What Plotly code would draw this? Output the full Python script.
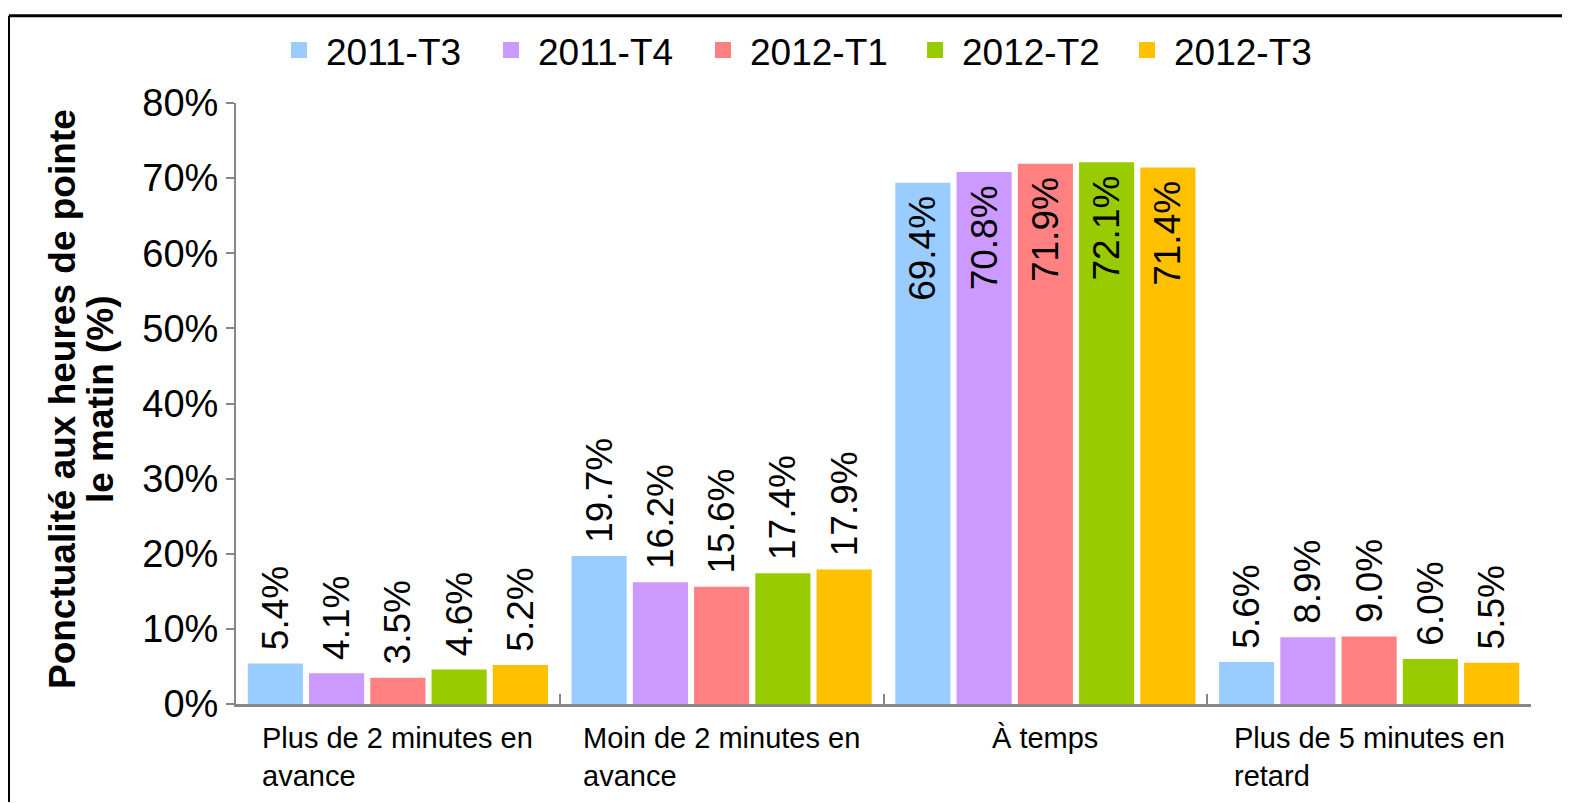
import plotly.graph_objects as go

categories = ["Plus de 2 minutes en<br>avance", "Moin de 2 minutes en<br>avance", "À temps", "Plus de 5 minutes en<br>retard"]
series_names = ["2011-T3", "2011-T4", "2012-T1", "2012-T2", "2012-T3"]
values = {
    "2011-T3": [5.4, 19.7, 69.4, 5.6],
    "2011-T4": [4.1, 16.2, 70.8, 8.9],
    "2012-T1": [3.5, 15.6, 71.9, 9.0],
    "2012-T2": [4.6, 17.4, 72.1, 6.0],
    "2012-T3": [5.2, 17.9, 71.4, 5.5],
}
colors = ["#99CCFF", "#CC99FF", "#FF8080", "#99CC00", "#FFC000"]
y_ticks = [0, 10, 20, 30, 40, 50, 60, 70, 80]
y_title_lines = ["Ponctualité aux heures de pointe", "le matin (%)"]

FONT = "Liberation Sans, Arial, sans-serif"
W, H = 1562, 795
ML, MT, PW, PH = 228, 89, 1295, 607
OFF = 8  # page offset of the figure


def px_x(x):
    return (x - OFF - ML) / PW


def px_y(y):
    return 1 - (y - OFF - MT) / PH


fig = go.Figure()
for name, col in zip(series_names, colors):
    vals = [v / 100 for v in values[name]]
    inside = [v > 0.5 for v in vals]
    pos = ["inside" if i else "outside" for i in inside]
    labels = [(f"{v:.1f}%\u00a0" if i else f"\u00a0{v:.1f}%") for v, i in zip(values[name], inside)]
    fig.add_trace(go.Bar(
        name=name, x=categories, y=vals, marker=dict(color=col, line=dict(width=0)),
        text=labels, textposition=pos,
        textangle=-90, insidetextanchor="end", constraintext="none",
        cliponaxis=False, showlegend=False,
        textfont=dict(family=FONT, size=37, color="black"),
        outsidetextfont=dict(family=FONT, size=37, color="black"),
        insidetextfont=dict(family=FONT, size=37, color="black"),
    ))
# legend entries (square swatches)
for name, col in zip(series_names, colors):
    fig.add_trace(go.Scatter(name=name, x=[None], y=[None], mode="markers",
                             marker=dict(symbol="square", size=20, color=col), showlegend=True))

for c in categories:
    fig.add_annotation(x=c, xref="x", y=0, yref="y", yanchor="top", yshift=-16,
                       text=c, showarrow=False, align="left",
                       font=dict(family=FONT, size=29, color="black"))

# y axis title as two rotated lines
for txt, xc in zip(y_title_lines, [62, 100]):
    fig.add_annotation(x=px_x(xc), xref="paper", y=px_y(396), yref="paper",
                       xanchor="center", yanchor="middle", textangle=-90,
                       text=f"<b>{txt}</b>", showarrow=False,
                       font=dict(family=FONT, size=37, color="black"))

fig.update_layout(
    width=W, height=H,
    margin=dict(l=ML, r=W - ML - PW, t=MT, b=H - MT - PH),
    paper_bgcolor="white", plot_bgcolor="rgba(0,0,0,0)",
    barmode="group", bargap=0.054, bargroupgap=0.1,
    font=dict(family=FONT, color="black"),
    legend=dict(orientation="h", x=px_x(272), xanchor="left",
                y=px_y(44), yanchor="middle", itemwidth=44,
                font=dict(family=FONT, size=37, color="black"),
                entrywidth=153, entrywidthmode="pixels", bgcolor="rgba(255,255,255,0)"),
    showlegend=True,
)
fig.update_xaxes(showline=True, linecolor="#878787", linewidth=3,
                 showticklabels=False, ticks="inside", tickson="boundaries",
                 ticklen=10, tickcolor="#878787", tickwidth=2, showgrid=False, zeroline=False)
fig.update_yaxes(range=[0, 0.8], tickvals=[t / 100 for t in y_ticks],
                 ticktext=[f"{t}%" for t in y_ticks],
                 showline=True, linecolor="#878787", linewidth=2,
                 ticks="outside", ticklen=8, tickcolor="#878787", tickwidth=2,
                 showgrid=False, zeroline=False,
                 tickfont=dict(family=FONT, size=38, color="black"))

# frame lines (top and left)
fig.add_shape(type="line", xref="paper", yref="paper", x0=px_x(OFF + 1), x1=px_x(OFF + W),
              y0=px_y(OFF + 1), y1=px_y(OFF + 1), line=dict(color="black", width=3))
fig.add_shape(type="line", xref="paper", yref="paper", x0=px_x(OFF + 1), x1=px_x(OFF + 1),
              y0=px_y(OFF + 1), y1=px_y(OFF + H), line=dict(color="black", width=2))

fig.write_html("out.html")
